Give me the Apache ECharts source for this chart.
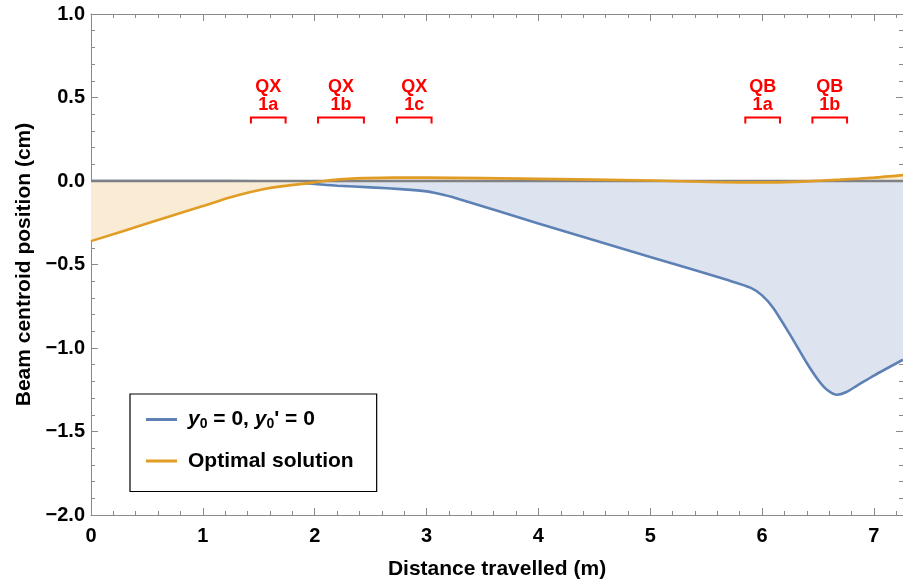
<!DOCTYPE html>
<html>
<head>
<meta charset="utf-8">
<title>Beam centroid position</title>
<script src="https://cdn.jsdelivr.net/npm/echarts@6/dist/echarts.min.js"></script>
<style>
  html, body { margin: 0; padding: 0; background: #ffffff; }
  #chart { width: 903px; height: 585px; }
</style>
</head>
<body>
<div id="chart"></div>
<script>
// Beam centroid for the uncorrected launch (y0 = 0, y0' = 0)
const baseX = [0, 0.5, 1.0, 1.5, 1.8, 2.0, 2.2, 2.5, 2.8, 3.0, 3.1, 3.25, 4.0, 5.0, 5.7, 5.9,
               6.0, 6.1, 6.25, 6.4, 6.5, 6.58, 6.67, 6.75, 6.85, 7.0, 7.26];
const baseY = [0, 0, 0, -0.002, -0.008, -0.018, -0.028, -0.038, -0.05, -0.062, -0.075, -0.1, -0.255, -0.455, -0.595, -0.64,
               -0.685, -0.76, -0.92, -1.09, -1.19, -1.25, -1.28, -1.265, -1.225, -1.165, -1.07];

// Beam centroid for the optimised launch conditions
const optX = [0, 0.5, 1.0, 1.24, 1.4, 1.55, 1.7, 1.85, 2.0, 2.15, 2.3, 2.45, 2.7, 3.0, 4.0, 5.0, 5.8, 6.1, 6.4, 6.7, 7.0, 7.26];
const optY = [-0.36, -0.255, -0.15, -0.099, -0.07, -0.048, -0.032, -0.02, -0.008, 0.005, 0.013, 0.017, 0.02, 0.02, 0.013, 0.003,
              -0.008, -0.008, -0.002, 0.008, 0.02, 0.035];

// Quadrupole magnets along the beamline (start / end in metres)
const magnetNames = ['QX\n1a', 'QX\n1b', 'QX\n1c', 'QB\n1a', 'QB\n1b'];
const magnetStart = [1.43, 2.03, 2.735, 5.85, 6.45];
const magnetEnd   = [1.74, 2.44, 3.045, 6.16, 6.76];

// Axis ticks
const xTickValues = [0, 1, 2, 3, 4, 5, 6, 7];
const xTickLabels = ['0', '1', '2', '3', '4', '5', '6', '7'];
const yTickValues = [-2, -1.5, -1, -0.5, 0, 0.5, 1];
const yTickLabels = ['\u22122.0', '\u22121.5', '\u22121.0', '\u22120.5', '0.0', '0.5', '1.0'];

const seriesNames = ['base', 'opt'];

const FONT = '"Liberation Sans", Arial, sans-serif';
const BLUE = '#5e81b5';
const ORANGE = '#e19c24';
const FRAME = '#8a8a8a';

function lookup(values, labels, v) {
  for (let i = 0; i < values.length; i++) {
    if (Math.abs(values[i] - v) < 1e-9) return labels[i];
  }
  return '';
}

const xRange = { min: 0, max: 7.26, interval: 1 };
const yRange = { min: -2, max: 1, interval: 0.5 };

const baseData = baseX.map((x, i) => [x, baseY[i]]);
const optData = optX.map((x, i) => [x, optY[i]]);
const magnetData = magnetStart.map((s, i) => [s, magnetEnd[i]]);
const axisLineData = [[xRange.min, 0], [xRange.max, 0]];

const tickCommon = {
  axisLine: { show: true, onZero: false, lineStyle: { color: FRAME, width: 1 } },
  axisTick: { show: true, inside: true, length: 7, lineStyle: { color: FRAME, width: 1 } },
  minorTick: { show: true, splitNumber: 5, length: 4, lineStyle: { color: FRAME, width: 1 } },
  splitLine: { show: false }
};

const chart = echarts.init(document.getElementById('chart'), null, { renderer: 'canvas' });

chart.setOption({
  animation: false,
  backgroundColor: '#ffffff',
  grid: { left: 91, top: 14, right: 0, bottom: 68, containLabel: false },
  xAxis: [
    Object.assign({
      type: 'value', position: 'bottom',
      name: 'Distance travelled (m)', nameLocation: 'middle', nameGap: 44,
      nameTextStyle: { fontFamily: FONT, fontWeight: 'bold', fontSize: 21, color: '#000' },
      axisLabel: {
        show: true, margin: 11, showMaxLabel: false,
        fontFamily: FONT, fontWeight: 'bold', fontSize: 20, color: '#000',
        formatter: v => lookup(xTickValues, xTickLabels, v)
      }
    }, xRange, tickCommon),
    Object.assign({
      type: 'value', position: 'top', axisLabel: { show: false }
    }, xRange, tickCommon)
  ],
  yAxis: [
    Object.assign({
      type: 'value', position: 'left',
      name: 'Beam centroid position (cm)', nameLocation: 'middle', nameGap: 55,
      nameTextStyle: { fontFamily: FONT, fontWeight: 'bold', fontSize: 21, color: '#000' },
      axisLabel: {
        show: true, margin: 6,
        fontFamily: FONT, fontWeight: 'bold', fontSize: 20, color: '#000',
        formatter: v => lookup(yTickValues, yTickLabels, v)
      }
    }, yRange, tickCommon),
    Object.assign({
      type: 'value', position: 'right', axisLabel: { show: false }
    }, yRange, tickCommon)
  ],
  legend: {
    orient: 'vertical',
    left: 130, top: 394,
    data: seriesNames,
    icon: 'rect',
    itemWidth: 31, itemHeight: 3,
    itemGap: 19,
    padding: [15, 23, 20, 16],
    borderColor: '#000', borderWidth: 1.2,
    backgroundColor: '#ffffff',
    formatter: name => name === 'base'
      ? '{i|y}{s|0}{n| = 0, }{i|y}{s|0}{n|\' = 0}'
      : '{n|Optimal solution}',
    textStyle: {
      padding: [0, 0, 0, 6],
      rich: {
        n: { fontFamily: FONT, fontWeight: 'bold', fontSize: 21, color: '#000', lineHeight: 24 },
        i: { fontFamily: FONT, fontWeight: 'bold', fontStyle: 'italic', fontSize: 21, color: '#000', lineHeight: 24 },
        s: { fontFamily: FONT, fontWeight: 'bold', fontSize: 14, color: '#000', lineHeight: 14, verticalAlign: 'bottom' }
      }
    }
  },
  series: [
    // filled region under the uncorrected trajectory, plus its curve
    {
      name: 'base', type: 'line', data: baseData,
      smooth: 0.25, showSymbol: false, symbol: 'none',
      color: BLUE,
      lineStyle: { color: BLUE, width: 2.6 },
      areaStyle: { color: '#dde4ef', opacity: 1, origin: 0 },
      z: 2
    },
    // filled region under the optimised trajectory (curve drawn separately on top)
    {
      name: 'optFill', type: 'line', data: optData,
      smooth: 0.25, showSymbol: false, symbol: 'none',
      color: ORANGE,
      lineStyle: { width: 0, opacity: 0 },
      areaStyle: { color: '#f9ebd4', opacity: 1, origin: 0 },
      z: 3
    },
    // y = 0 axis line through the plot
    {
      name: 'axis0', type: 'line', data: axisLineData,
      showSymbol: false, symbol: 'none', silent: true,
      lineStyle: { color: '#7f8185', width: 2.4 },
      z: 4
    },
    {
      name: 'opt', type: 'line', data: optData,
      smooth: 0.25, showSymbol: false, symbol: 'none',
      color: ORANGE,
      lineStyle: { color: ORANGE, width: 2.6 },
      z: 5
    },
    {
      name: 'magnets', type: 'custom', data: magnetData,
      encode: { x: [0, 1] },
      clip: false, silent: true, z: 6,
      renderItem: (params, api) => {
        const bracketY = 0.38;
        const s = api.coord([api.value(0), bracketY]);
        const e = api.coord([api.value(1), bracketY]);
        const top = s[1];
        return {
          type: 'group',
          children: [
            {
              type: 'polyline',
              shape: { points: [[s[0], top + 6], [s[0], top], [e[0], top], [e[0], top + 6]] },
              style: { stroke: '#ff0000', lineWidth: 2, fill: null }
            },
            {
              type: 'text',
              style: {
                text: magnetNames[params.dataIndex],
                x: (s[0] + e[0]) / 2, y: top - 4,
                align: 'center', verticalAlign: 'bottom',
                font: 'bold 18px ' + FONT, lineHeight: 17.5,
                fill: '#ff0000'
              }
            }
          ]
        };
      }
    }
  ]
});
</script>
</body>
</html>
